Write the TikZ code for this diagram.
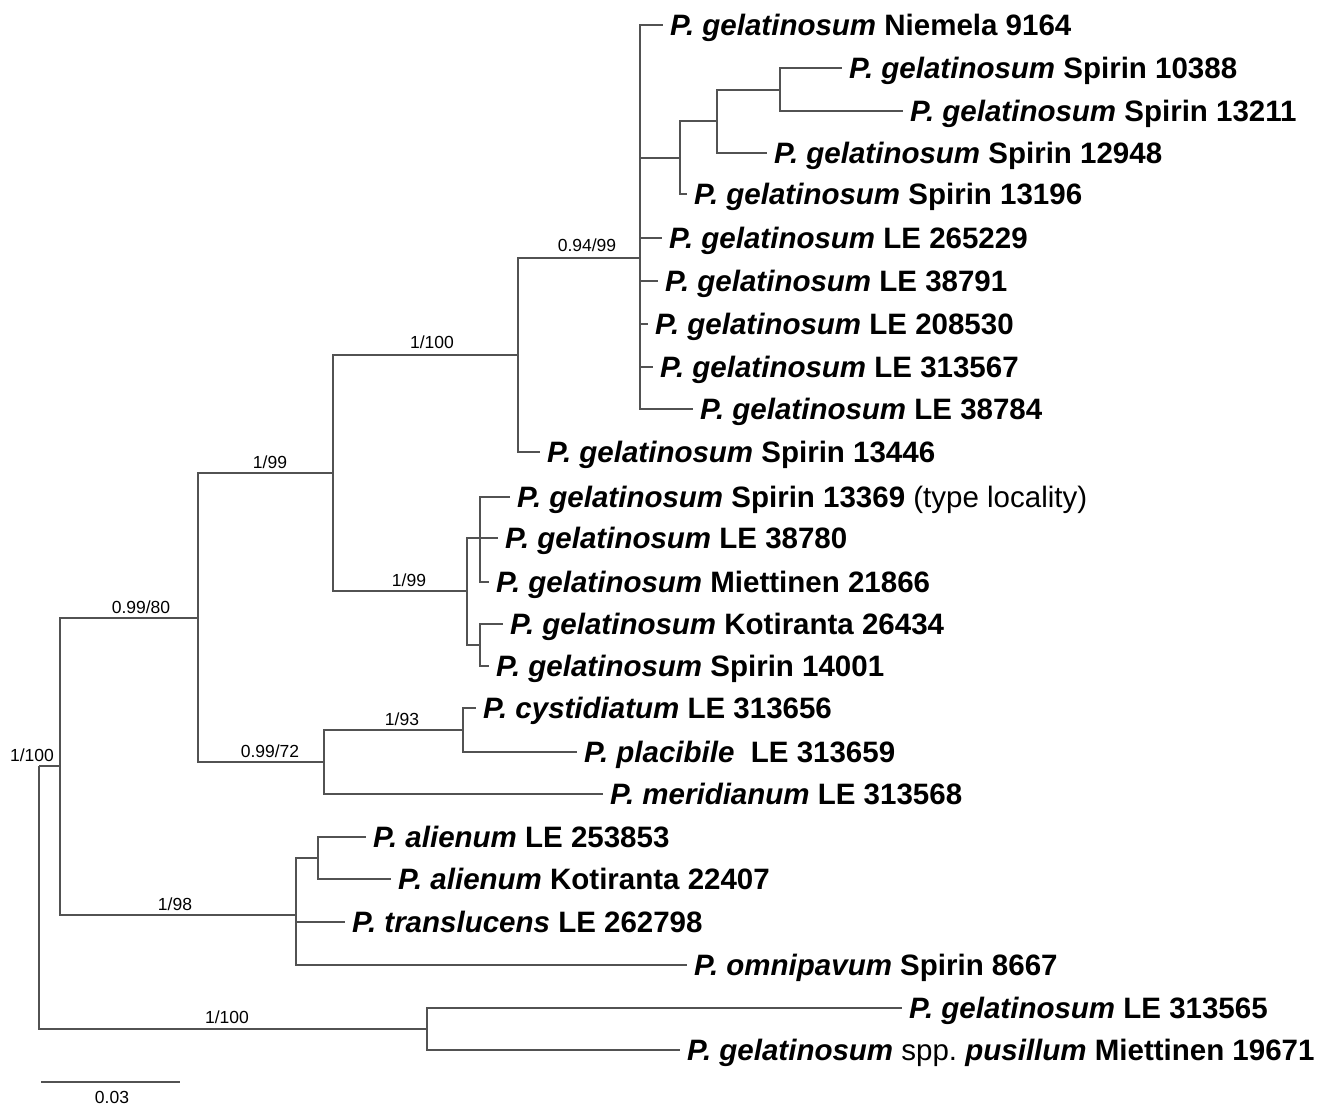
\documentclass[tikz,border=0pt]{standalone}
\usepackage{fontspec}
\setmainfont{Liberation Sans}
\frenchspacing
\begin{document}
\begin{tikzpicture}[x=1pt,y=-1pt,
  br/.style={draw=black!68, line width=1.15pt},
  leaf/.style={anchor=base west, inner sep=0pt, font=\fontsize{29.5}{35}\selectfont\bfseries},
  sup/.style={anchor=base, inner sep=0pt, font=\fontsize{17.5}{20}\selectfont}]
\useasboundingbox (0,0) rectangle (1326,1107);

% internal nodes (x of node, y of its parent branch)
\coordinate (root) at (39,766);
\coordinate (nA) at (60,766);
\coordinate (nB) at (198,618);
\coordinate (nC) at (333,473);
\coordinate (nD) at (518,355);
\coordinate (nE) at (640,258);
\coordinate (nF) at (680,158);
\coordinate (nG) at (717,121);
\coordinate (nH) at (780,90);
\coordinate (nI) at (467,591);
\coordinate (nJ) at (480,538);
\coordinate (nK) at (480,645);
\coordinate (nL) at (324,762);
\coordinate (nM) at (463,730);
\coordinate (nN) at (296,915);
\coordinate (nO) at (318,858);
\coordinate (nP) at (427,1029);

% leaf tips
\coordinate (t1) at (663,25);
\coordinate (t2) at (842,68);
\coordinate (t3) at (903,111);
\coordinate (t4) at (767,153);
\coordinate (t5) at (687,194);
\coordinate (t6) at (662,238);
\coordinate (t7) at (658,281);
\coordinate (t8) at (648,324);
\coordinate (t9) at (653,367);
\coordinate (t10) at (693,409);
\coordinate (t11) at (540,452);
\coordinate (t12) at (510,497);
\coordinate (t13) at (498,538);
\coordinate (t14) at (489,582);
\coordinate (t15) at (503,624);
\coordinate (t16) at (489,666);
\coordinate (t17) at (476,708);
\coordinate (t18) at (577,752);
\coordinate (t19) at (603,794);
\coordinate (t20) at (366,837);
\coordinate (t21) at (391,879);
\coordinate (t22) at (345,922);
\coordinate (t23) at (687,965);
\coordinate (t24) at (902,1008);
\coordinate (t25) at (680,1050);

% branches
\draw[br] (root) |- (nA);
\draw[br] (root) |- (nP);
\draw[br] (nA) |- (nB);
\draw[br] (nA) |- (nN);
\draw[br] (nB) |- (nC);
\draw[br] (nB) |- (nL);
\draw[br] (nC) |- (nD);
\draw[br] (nC) |- (nI);
\draw[br] (nD) |- (nE);
\draw[br] (nD) |- (t11);
\draw[br] (nE) |- (t1);
\draw[br] (nE) |- (nF);
\draw[br] (nE) |- (t6);
\draw[br] (nE) |- (t7);
\draw[br] (nE) |- (t8);
\draw[br] (nE) |- (t9);
\draw[br] (nE) |- (t10);
\draw[br] (nF) |- (nG);
\draw[br] (nF) |- (t5);
\draw[br] (nG) |- (nH);
\draw[br] (nG) |- (t4);
\draw[br] (nH) |- (t2);
\draw[br] (nH) |- (t3);
\draw[br] (nI) |- (nJ);
\draw[br] (nI) |- (nK);
\draw[br] (nJ) |- (t12);
\draw[br] (nJ) |- (t13);
\draw[br] (nJ) |- (t14);
\draw[br] (nK) |- (t15);
\draw[br] (nK) |- (t16);
\draw[br] (nL) |- (nM);
\draw[br] (nL) |- (t19);
\draw[br] (nM) |- (t17);
\draw[br] (nM) |- (t18);
\draw[br] (nN) |- (nO);
\draw[br] (nN) |- (t22);
\draw[br] (nN) |- (t23);
\draw[br] (nO) |- (t20);
\draw[br] (nO) |- (t21);
\draw[br] (nP) |- (t24);
\draw[br] (nP) |- (t25);

% leaf labels
\node[leaf] (l1) at ([shift={(7,10.5)}]t1) {\textit{P. gelatinosum} Niemela 9164};
\node[leaf] (l2) at ([shift={(7,10.5)}]t2) {\textit{P. gelatinosum} Spirin 10388};
\node[leaf] (l3) at ([shift={(7,10.5)}]t3) {\textit{P. gelatinosum} Spirin 13211};
\node[leaf] (l4) at ([shift={(7,10.5)}]t4) {\textit{P. gelatinosum} Spirin 12948};
\node[leaf] (l5) at ([shift={(7,10.5)}]t5) {\textit{P. gelatinosum} Spirin 13196};
\node[leaf] (l6) at ([shift={(7,10.5)}]t6) {\textit{P. gelatinosum} LE 265229};
\node[leaf] (l7) at ([shift={(7,10.5)}]t7) {\textit{P. gelatinosum} LE 38791};
\node[leaf] (l8) at ([shift={(7,10.5)}]t8) {\textit{P. gelatinosum} LE 208530};
\node[leaf] (l9) at ([shift={(7,10.5)}]t9) {\textit{P. gelatinosum} LE 313567};
\node[leaf] (l10) at ([shift={(7,10.5)}]t10) {\textit{P. gelatinosum} LE 38784};
\node[leaf] (l11) at ([shift={(7,10.5)}]t11) {\textit{P. gelatinosum} Spirin 13446};
\node[leaf] (l12) at ([shift={(7,10.5)}]t12) {\textit{P. gelatinosum} Spirin 13369 \textmd{(type locality)}};
\node[leaf] (l13) at ([shift={(7,10.5)}]t13) {\textit{P. gelatinosum} LE 38780};
\node[leaf] (l14) at ([shift={(7,10.5)}]t14) {\textit{P. gelatinosum} Miettinen 21866};
\node[leaf] (l15) at ([shift={(7,10.5)}]t15) {\textit{P. gelatinosum} Kotiranta 26434};
\node[leaf] (l16) at ([shift={(7,10.5)}]t16) {\textit{P. gelatinosum} Spirin 14001};
\node[leaf] (l17) at ([shift={(7,10.5)}]t17) {\textit{P. cystidiatum} LE 313656};
\node[leaf] (l18) at ([shift={(7,10.5)}]t18) {\textit{P. placibile}\ \ LE 313659};
\node[leaf] (l19) at ([shift={(7,10.5)}]t19) {\textit{P. meridianum} LE 313568};
\node[leaf] (l20) at ([shift={(7,10.5)}]t20) {\textit{P. alienum} LE 253853};
\node[leaf] (l21) at ([shift={(7,10.5)}]t21) {\textit{P. alienum} Kotiranta 22407};
\node[leaf] (l22) at ([shift={(7,10.5)}]t22) {\textit{P. translucens} LE 262798};
\node[leaf] (l23) at ([shift={(7,10.5)}]t23) {\textit{P. omnipavum} Spirin 8667};
\node[leaf] (l24) at ([shift={(7,10.5)}]t24) {\textit{P. gelatinosum} LE 313565};
\node[leaf] (l25) at ([shift={(7,10.5)}]t25) {\textit{P. gelatinosum} \textmd{spp.\ }\textit{pusillum} Miettinen 19671};

% support values
\node[sup] (s1) at (587,252) {0.94/99};
\node[sup] (s2) at (432,349) {1/100};
\node[sup] (s3) at (270,468) {1/99};
\node[sup] (s4) at (141,613) {0.99/80};
\node[sup] (s5) at (409,586) {1/99};
\node[sup] (s6) at (402,725) {1/93};
\node[sup] (s7) at (270,757) {0.99/72};
\node[sup] (s8) at (32,761) {1/100};
\node[sup] (s9) at (175,910) {1/98};
\node[sup] (s10) at (227,1023) {1/100};

% scale bar
\coordinate (sb1) at (41,1082);
\coordinate (sb2) at (180,1082);
\draw[br] (sb1) -- (sb2);
\node[sup] (sbl) at (112,1103) {0.03};
\end{tikzpicture}
\end{document}
